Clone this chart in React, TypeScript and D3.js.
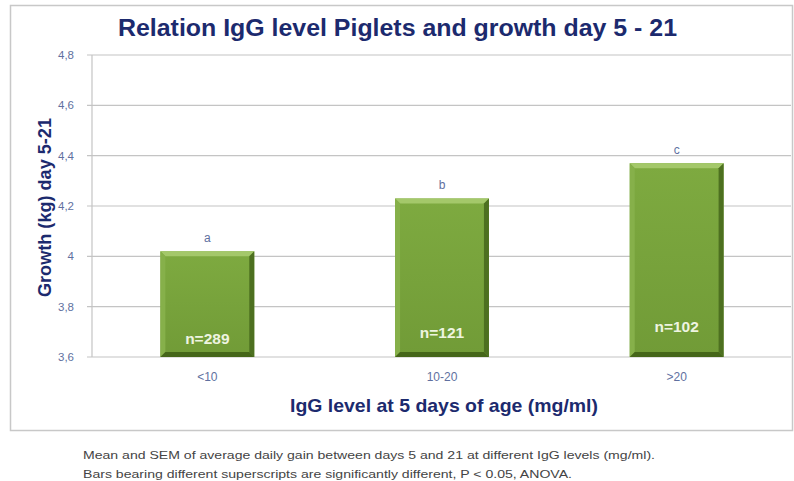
import { useEffect, useRef } from 'react';
import * as d3 from 'd3';

const categories = ['<10', '10-20', '>20'];
const growth = [4.02, 4.23, 4.37];
const letters = ['a', 'b', 'c'];
const counts = ['n=289', 'n=121', 'n=102'];
const yTicks = [3.6, 3.8, 4.0, 4.2, 4.4, 4.6, 4.8];
const footnotes = [
  'Mean and SEM of average daily gain between days 5 and 21  at different IgG levels (mg/ml).',
  'Bars bearing different superscripts are significantly different, P < 0.05, ANOVA.',
];
const footnoteWidths = [572, 489];

export default function App() {
  const svgRef = useRef<SVGSVGElement>(null);

  useEffect(() => {
    if (!svgRef.current) return;
    const svg = d3.select(svgRef.current);
    svg.selectAll('*').remove();

    const W = 794;
    const H = 481;
    const plot = { left: 90, right: 794, top: 55, bottom: 357 };
    const navy = '#1c2a6e';
    const font = 'Liberation Sans, Arial, sans-serif';

    svg.attr('width', W).attr('height', H);

    svg.append('rect').attr('width', W).attr('height', H).attr('fill', '#fff');

    // cadre
    svg.append('rect')
      .attr('x', 10.5).attr('y', 5.5)
      .attr('width', 782).attr('height', 425)
      .attr('fill', '#fff')
      .attr('stroke', '#c8c8c8')
      .attr('stroke-width', 1.5);

    const x = d3.scaleBand<string>()
      .domain(categories)
      .range([plot.left, plot.right])
      .paddingInner(0.6)
      .paddingOuter(0.3);

    const y = d3.scaleLinear()
      .domain([3.6, 4.8])
      .range([plot.bottom, plot.top]);

    // grille
    svg.append('g')
      .selectAll('line')
      .data(yTicks)
      .enter().append('line')
      .attr('x1', plot.left - 3)
      .attr('x2', 791)
      .attr('y1', d => y(d))
      .attr('y2', d => y(d))
      .attr('stroke', '#c4c4c4')
      .attr('stroke-width', 1.2);

    svg.append('line')
      .attr('x1', plot.left + 2).attr('x2', plot.left + 2)
      .attr('y1', plot.top).attr('y2', plot.bottom)
      .attr('stroke', '#c4c4c4')
      .attr('stroke-width', 1.2);

    // étiquettes axe y
    const fmt = (d: number) => d3.format('.1~f')(d).replace('.', ',');
    svg.append('g')
      .selectAll('text')
      .data(yTicks)
      .enter().append('text')
      .attr('x', 74)
      .attr('y', d => y(d))
      .attr('dy', '0.35em')
      .attr('text-anchor', 'end')
      .attr('font-family', font)
      .attr('font-size', 11.5)
      .attr('fill', '#6070a0')
      .text(fmt);

    // dégradés
    const defs = svg.append('defs');
    const grad = defs.append('linearGradient')
      .attr('id', 'barFill').attr('x1', 0).attr('x2', 0).attr('y1', 0).attr('y2', 1);
    grad.append('stop').attr('offset', '0%').attr('stop-color', '#7eaa40');
    grad.append('stop').attr('offset', '100%').attr('stop-color', '#719b37');

    const bw = x.bandwidth();
    const bev = 5;

    const bars = svg.append('g')
      .selectAll('g')
      .data(categories)
      .enter().append('g');

    bars.append('rect')
      .attr('x', d => x(d)!)
      .attr('y', (d, i) => y(growth[i]))
      .attr('width', bw)
      .attr('height', (d, i) => plot.bottom - y(growth[i]))
      .attr('fill', 'url(#barFill)');

    // biseau haut
    bars.append('path')
      .attr('d', (d, i) => {
        const x0 = x(d)!, y0 = y(growth[i]);
        return `M${x0},${y0}L${x0 + bw},${y0}L${x0 + bw - bev},${y0 + bev}L${x0 + bev},${y0 + bev}Z`;
      })
      .attr('fill', '#a4c86a');
    // biseau gauche
    bars.append('path')
      .attr('d', (d, i) => {
        const x0 = x(d)!, y0 = y(growth[i]);
        return `M${x0},${y0}L${x0 + bev},${y0 + bev}L${x0 + bev},${plot.bottom - bev}L${x0},${plot.bottom}Z`;
      })
      .attr('fill', '#86b04a');
    // biseau droit
    bars.append('path')
      .attr('d', (d, i) => {
        const x0 = x(d)!, y0 = y(growth[i]);
        return `M${x0 + bw},${y0}L${x0 + bw},${plot.bottom}L${x0 + bw - bev},${plot.bottom - bev}L${x0 + bw - bev},${y0 + bev}Z`;
      })
      .attr('fill', '#4d7020');
    // biseau bas
    bars.append('path')
      .attr('d', d => {
        const x0 = x(d)!;
        return `M${x0},${plot.bottom}L${x0 + bw},${plot.bottom}L${x0 + bw - bev},${plot.bottom - bev}L${x0 + bev},${plot.bottom - bev}Z`;
      })
      .attr('fill', '#456619');

    // lettres
    bars.append('text')
      .attr('x', d => x(d)! + bw / 2)
      .attr('y', (d, i) => y(growth[i]) - 9)
      .attr('text-anchor', 'middle')
      .attr('font-family', font)
      .attr('font-size', 12)
      .attr('fill', '#6070a0')
      .text((d, i) => letters[i]);

    // n=
    bars.append('text')
      .attr('x', d => x(d)! + bw / 2)
      .attr('y', (d, i) => plot.bottom - 13 - i * 6)
      .attr('text-anchor', 'middle')
      .attr('font-family', font)
      .attr('font-size', 15.5)
      .attr('font-weight', 'bold')
      .attr('fill', '#eef4e0')
      .text((d, i) => counts[i]);

    // catégories
    svg.append('g')
      .selectAll('text')
      .data(categories)
      .enter().append('text')
      .attr('x', d => x(d)! + bw / 2)
      .attr('y', 381)
      .attr('text-anchor', 'middle')
      .attr('font-family', font)
      .attr('font-size', 12)
      .attr('fill', '#6070a0')
      .text(d => d);

    // titres
    svg.append('text')
      .attr('x', 118).attr('y', 36)
      .attr('font-family', font)
      .attr('font-size', 23)
      .attr('font-weight', 'bold')
      .attr('fill', navy)
      .attr('textLength', 559)
      .attr('lengthAdjust', 'spacingAndGlyphs')
      .text('Relation IgG level Piglets and growth day 5 - 21');

    svg.append('text')
      .attr('x', 290).attr('y', 412)
      .attr('font-family', font)
      .attr('font-size', 19)
      .attr('font-weight', 'bold')
      .attr('fill', navy)
      .attr('textLength', 308)
      .attr('lengthAdjust', 'spacingAndGlyphs')
      .text('IgG level at 5 days of age (mg/ml)');

    svg.append('text')
      .attr('transform', 'translate(51,297) rotate(-90)')
      .attr('font-family', font)
      .attr('font-size', 18)
      .attr('font-weight', 'bold')
      .attr('fill', navy)
      .attr('textLength', 179)
      .attr('lengthAdjust', 'spacingAndGlyphs')
      .text('Growth (kg) day 5-21');

    // notes
    svg.append('g')
      .selectAll('text')
      .data(footnotes)
      .enter().append('text')
      .attr('x', 83)
      .attr('y', (d, i) => 459 + i * 19)
      .attr('font-family', font)
      .attr('font-size', 10.5)
      .attr('fill', '#444')
      .attr('textLength', (d, i) => footnoteWidths[i])
      .attr('lengthAdjust', 'spacingAndGlyphs')
      .text(d => d);
  }, []);

  return (
    <svg
      ref={svgRef}
      style={{ position: 'absolute', left: 0, top: 0, display: 'block' }}
    />
  );
}
